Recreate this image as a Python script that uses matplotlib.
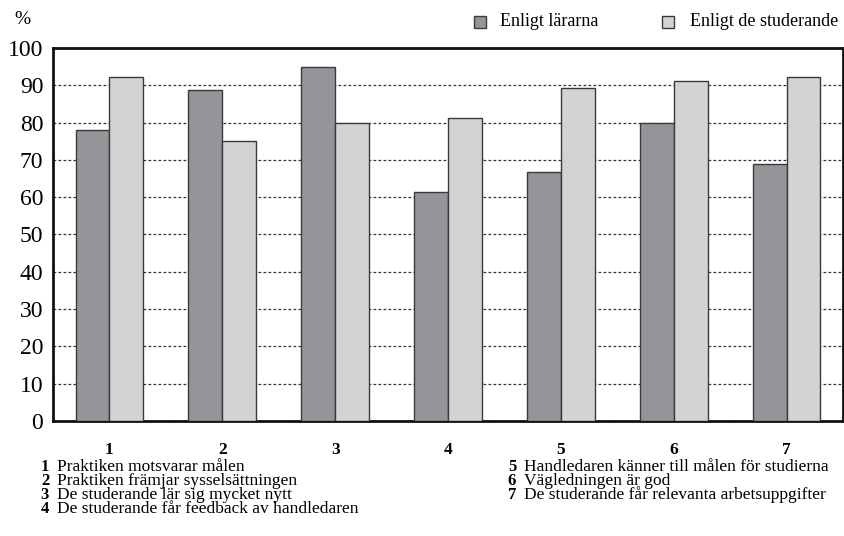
import matplotlib
matplotlib.use("Agg")
import matplotlib.pyplot as plt
from matplotlib.patches import Rectangle
import numpy as np

plt.rcParams['font.family'] = ['Liberation Serif', 'DejaVu Serif']

categories = ["1", "2", "3", "4", "5", "6", "7"]
larare = [78, 88.7, 94.8, 61.4, 66.8, 80, 68.8]
studerande = [92.2, 75, 80, 81.2, 89.2, 91.2, 92.2]
series_names = ["Enligt lärarna", "Enligt de studerande"]
descriptions = [
    "Praktiken motsvarar målen",
    "Praktiken främjar sysselsättningen",
    "De studerande lär sig mycket nytt",
    "De studerande får feedback av handledaren",
    "Handledaren känner till målen för studierna",
    "Vägledningen är god",
    "De studerande får relevanta arbetsuppgifter",
]

dark = "#939598"
light = "#d1d3d4"
edge = "#3a3a3a"

W, H = 845, 536
fig = plt.figure(figsize=(W / 100, H / 100), dpi=100)
ax = fig.add_axes([53 / W, 1 - 421 / H, (843 - 53) / W, (421 - 48) / H])

x = np.arange(len(categories))
bw = 0.30
ax.bar(x - bw / 2, larare, bw, color=dark, edgecolor=edge, linewidth=1.0, zorder=3)
ax.bar(x + bw / 2, studerande, bw, color=light, edgecolor=edge, linewidth=1.0, zorder=3)

ax.set_xlim(-0.5, len(categories) - 0.5)
ax.set_ylim(0, 100)
ax.set_yticks(np.arange(0, 101, 10))
ax.yaxis.grid(True, linestyle=(0, (2.2, 1.8)), color="#333333", linewidth=0.9, zorder=0)
ax.set_axisbelow(True)
ax.tick_params(axis="y", length=0, pad=7, labelsize=17)
ax.set_xticks(x)
ax.set_xticklabels(categories, fontweight="bold", fontsize=12.5)
ax.tick_params(axis="x", length=0, pad=15)
for s in ax.spines.values():
    s.set_linewidth(2.0)
    s.set_color("#111111")

fig.text(14 / W, 1 - 20 / H, "%", fontsize=14, ha="left", va="center")

# legend
for (lx, tx, col, name) in [(474, 500, dark, series_names[0]), (662, 690, light, series_names[1])]:
    fig.patches.append(Rectangle((lx / W, 1 - 28 / H), 12 / W, 12 / H, transform=fig.transFigure,
                                 facecolor=col, edgecolor=edge, linewidth=1.0))
    fig.text(tx / W, 1 - 21 / H, name, fontsize=13, ha="left", va="center")

# item descriptions
rows_y = [467, 481, 495, 509]
for i, d in enumerate(descriptions):
    if i < 4:
        nx, dx, yy = 45, 57, rows_y[i]
    else:
        nx, dx, yy = 512, 524, rows_y[i - 4]
    fig.text(nx / W, 1 - yy / H, categories[i], fontsize=12, fontweight="bold", ha="center", va="center")
    fig.text(dx / W, 1 - yy / H, d, fontsize=12.5, ha="left", va="center")

fig.savefig("out.png", dpi=100)
